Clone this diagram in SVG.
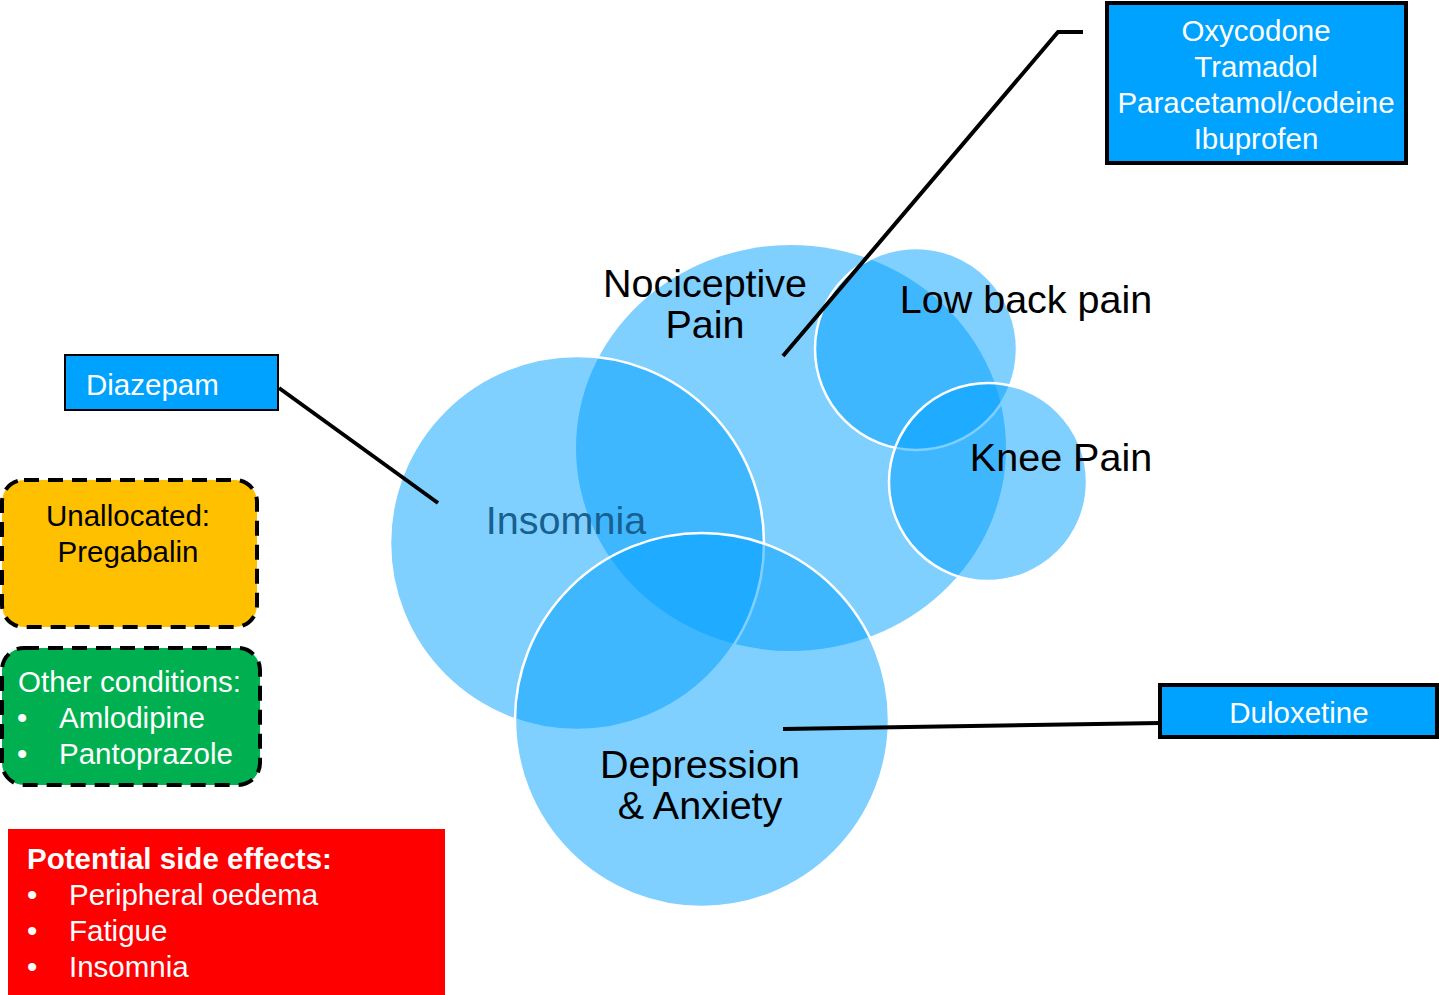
<svg xmlns="http://www.w3.org/2000/svg" width="1439" height="995" viewBox="0 0 1439 995">
<style>
.c{fill:#00A0FF;fill-opacity:0.5}
.cs{stroke:#FFFFFF;stroke-width:2.5}
.t{font-family:"Liberation Sans",Arial,sans-serif}
.big{font-size:39.5px;fill:#000;text-anchor:middle}
.sm{font-size:29.5px}
.w{fill:#FFFFFF}
.conn{stroke:#000;stroke-width:4;fill:none}
.drug{fill:#00A2FF;stroke:#000}
.dash{stroke:#000;stroke-width:4;stroke-dasharray:15 9}
</style>
<rect width="1439" height="995" fill="#FFFFFF"/>
<g id="nociceptive">
<ellipse class="c" cx="791" cy="448" rx="215" ry="203"/>
</g>
<g id="lowback">
<circle class="c cs" cx="916" cy="349" r="101"/>
</g>
<g id="knee">
<circle class="c cs" cx="988" cy="482" r="99"/>
</g>
<g id="insomnia">
<circle class="c cs" cx="577" cy="543" r="187"/>
</g>
<g id="depression">
<circle class="c cs" cx="702" cy="720" r="187"/>
</g>
<g id="connectors">
<polyline class="conn" points="783,356 1058,32 1083,32"/>
<line class="conn" x1="279" y1="388" x2="438" y2="503"/>
<line class="conn" x1="783" y1="729" x2="1160" y2="723"/>
</g>
<g id="labels" class="t">
<text class="big" x="705" y="297">Nociceptive</text>
<text class="big" x="705" y="338">Pain</text>
<text class="big" x="1026" y="313">Low back pain</text>
<text class="big" x="1061" y="471">Knee Pain</text>
<text class="big" x="566" y="534" style="fill:#17608F">Insomnia</text>
<text class="big" x="700" y="778">Depression</text>
<text class="big" x="700" y="819">&amp; Anxiety</text>
</g>
<g id="opioids">
<rect class="drug" x="1107" y="3" width="299" height="160" stroke-width="4"/>
<g class="t sm w" text-anchor="middle">
<text x="1256" y="41">Oxycodone</text>
<text x="1256" y="77">Tramadol</text>
<text x="1256" y="113">Paracetamol/codeine</text>
<text x="1256" y="149">Ibuprofen</text>
</g>
</g>
<g id="diazepam">
<rect class="drug" x="65" y="355" width="213" height="55" stroke-width="2"/>
<text class="t sm w" x="86" y="394.5">Diazepam</text>
</g>
<g id="duloxetine">
<rect class="drug" x="1160" y="685" width="277" height="52" stroke-width="4"/>
<text class="t sm w" x="1299" y="722.5" text-anchor="middle">Duloxetine</text>
</g>
<g id="unallocated">
<rect class="dash" x="2" y="480" width="255" height="147" rx="22" fill="#FFC000"/>
<g class="t sm" fill="#000" text-anchor="middle">
<text x="128" y="525.5">Unallocated:</text>
<text x="128" y="561.5">Pregabalin</text>
</g>
</g>
<g id="other">
<rect class="dash" x="2" y="648" width="258" height="137" rx="22" fill="#00B050"/>
<g class="t sm w">
<text x="18" y="691.5">Other conditions:</text>
<text x="17" y="727.5">•</text>
<text x="59" y="727.5">Amlodipine</text>
<text x="17" y="763.5">•</text>
<text x="59" y="763.5">Pantoprazole</text>
</g>
</g>
<g id="sideeffects">
<rect x="8" y="829" width="437" height="166" fill="#FF0000"/>
<g class="t sm w">
<text x="27" y="868.5" font-weight="bold">Potential side effects:</text>
<text x="27" y="905">•</text>
<text x="69" y="905">Peripheral oedema</text>
<text x="27" y="940.5">•</text>
<text x="69" y="940.5">Fatigue</text>
<text x="27" y="977">•</text>
<text x="69" y="977">Insomnia</text>
</g>
</g>
</svg>
